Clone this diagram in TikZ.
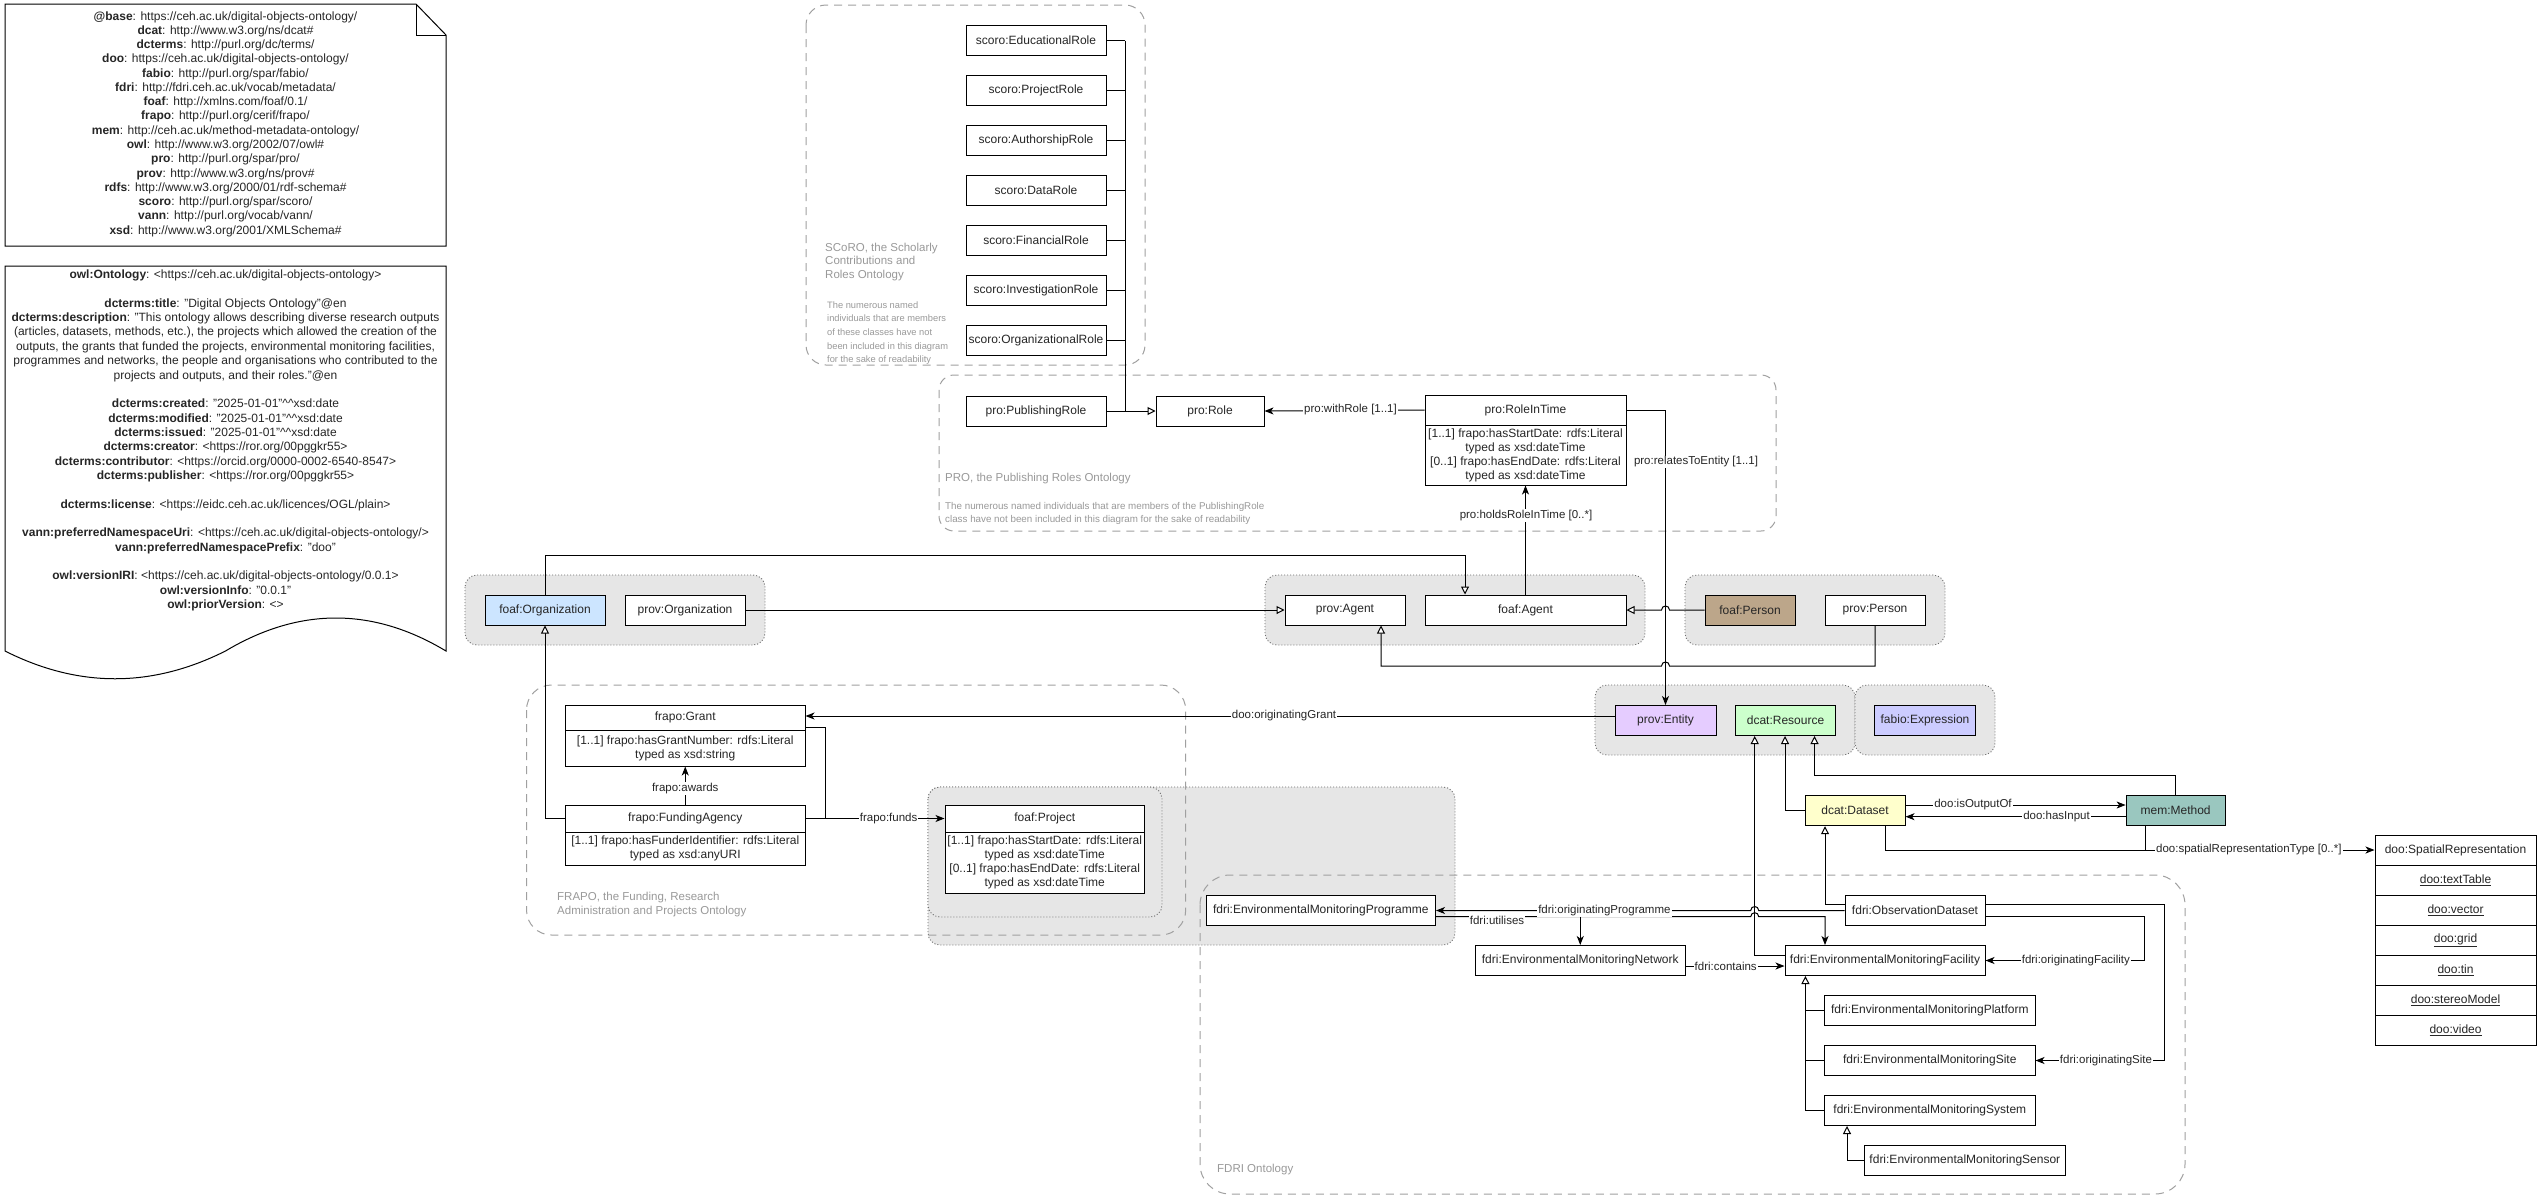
\documentclass[tikz,border=0pt]{standalone}
\usepackage{fontspec}
\setmainfont{Liberation Sans}
\usetikzlibrary{arrows.meta}
\definecolor{txt}{HTML}{262626}
\definecolor{grpfill}{HTML}{E6E6E6}
\definecolor{grpline}{HTML}{6E6E6E}
\definecolor{contline}{HTML}{A0A0A0}
\definecolor{conttext}{HTML}{999999}
\definecolor{cOrg}{HTML}{CCE5FF}
\definecolor{cPerson}{HTML}{BCA68A}
\definecolor{cEntity}{HTML}{E5CCFF}
\definecolor{cResource}{HTML}{CCFFCC}
\definecolor{cExpr}{HTML}{CCCCFF}
\definecolor{cDataset}{HTML}{FFFFCC}
\definecolor{cMethod}{HTML}{9AC7BF}
\newcommand{\myfs}[2]{\fontsize{#1}{#2}\selectfont}
\begin{document}
\begin{tikzpicture}[x=1pt,y=-1pt,
  cls/.style={draw=black, fill=white, line width=1pt, minimum height=30pt, inner sep=1pt, font=\myfs{12}{14}, text=txt, anchor=center},
  body/.style={cls, align=center},
  lbl/.style={fill=white, inner sep=1pt, font=\myfs{11.5}{13}, text=txt},
  edge/.style={line width=1pt, draw=black},
  arr/.style={edge, -{Stealth[length=9pt,width=7pt,inset=2.5pt]}},
  inh/.style={edge, -{Triangle[length=8pt,width=8pt,fill=white]}},
  grp/.style={draw=grpline, fill=grpfill, line width=0.9pt, dash pattern=on 1pt off 2pt, rounded corners=12pt},
  cont/.style={draw=contline, line width=1pt, dash pattern=on 8pt off 6pt, rounded corners=#1},
  ctitle/.style={anchor=west, align=left, text=conttext, inner sep=0pt, font=\myfs{11.5}{13.6}},
  cnote/.style={anchor=west, align=left, text=conttext, inner sep=0pt, font=\myfs{9.3}{13.6}},
  notetext/.style={align=center, text=txt, inner sep=0pt}
]
\useasboundingbox (0,0) rectangle (2541,1202);
\fill[white] (0,0) rectangle (2541,1202);

% ---------- notes ----------
\draw[line width=1pt, fill=white] (5,4) -- (416,4) -- (446,35) -- (446,246) -- (5,246) -- cycle;
\draw[line width=1pt] (416,4) -- (416,35) -- (446,35);
\node[notetext, font=\myfs{12}{14.27}] (prefixText) at (225.5,124) {%
\textbf{@base}: https://ceh.ac.uk/digital-objects-ontology/\\
\textbf{dcat}: http://www.w3.org/ns/dcat\#\\
\textbf{dcterms}: http://purl.org/dc/terms/\\
\textbf{doo}: https://ceh.ac.uk/digital-objects-ontology/\\
\textbf{fabio}: http://purl.org/spar/fabio/\\
\textbf{fdri}: http://fdri.ceh.ac.uk/vocab/metadata/\\
\textbf{foaf}: http://xmlns.com/foaf/0.1/\\
\textbf{frapo}: http://purl.org/cerif/frapo/\\
\textbf{mem}: http://ceh.ac.uk/method-metadata-ontology/\\
\textbf{owl}: http://www.w3.org/2002/07/owl\#\\
\textbf{pro}: http://purl.org/spar/pro/\\
\textbf{prov}: http://www.w3.org/ns/prov\#\\
\textbf{rdfs}: http://www.w3.org/2000/01/rdf-schema\#\\
\textbf{scoro}: http://purl.org/spar/scoro/\\
\textbf{vann}: http://purl.org/vocab/vann/\\
\textbf{xsd}: http://www.w3.org/2001/XMLSchema\#};

\draw[line width=1pt, fill=white] (5,266) -- (446,266) -- (446,651)
  .. controls (372.7,607) and (299.2,607) .. (225.5,651)
  .. controls (151.8,688) and (78.3,688) .. (5,651) -- cycle;
\node[notetext, font=\myfs{12}{14.35}] (ontoText) at (225.5,440.5) {%
\textbf{owl:Ontology}: <https://ceh.ac.uk/digital-objects-ontology>\\[14.35pt]
\textbf{dcterms:title}: "Digital Objects Ontology"@en\\
\textbf{dcterms:description}: "This ontology allows describing diverse research outputs\\
(articles, datasets, methods, etc.), the projects which allowed the creation of the\\
outputs, the grants that funded the projects, environmental monitoring facilities,\\
programmes and networks, the people and organisations who contributed to the\\
projects and outputs, and their roles."@en\\[14.35pt]
\textbf{dcterms:created}: "2025-01-01"\textasciicircum\textasciicircum xsd:date\\
\textbf{dcterms:modified}: "2025-01-01"\textasciicircum\textasciicircum xsd:date\\
\textbf{dcterms:issued}: "2025-01-01"\textasciicircum\textasciicircum xsd:date\\
\textbf{dcterms:creator}: <https://ror.org/00pggkr55>\\
\textbf{dcterms:contributor}: <https://orcid.org/0000-0002-6540-8547>\\
\textbf{dcterms:publisher}: <https://ror.org/00pggkr55>\\[14.35pt]
\textbf{dcterms:license}: <https://eidc.ceh.ac.uk/licences/OGL/plain>\\[14.35pt]
\textbf{vann:preferredNamespaceUri}: <https://ceh.ac.uk/digital-objects-ontology/>\\
\textbf{vann:preferredNamespacePrefix}: "doo"\\[14.35pt]
\textbf{owl:versionIRI}: <https://ceh.ac.uk/digital-objects-ontology/0.0.1>\\
\textbf{owl:versionInfo}: "0.0.1"\\
\textbf{owl:priorVersion}: <>};

% ---------- gray groups ----------
\draw[grp] (465,575) rectangle (765,645);
\draw[grp] (1265,575) rectangle (1645,645);
\draw[grp] (1685,575) rectangle (1945,645);
\draw[grp] (1595,685) rectangle (1855,755);
\draw[grp] (1855,685) rectangle (1995,755);
\draw[grp] (928,787) rectangle (1455,945);
\draw[grp] (928,787) rectangle (1162,917);

% ---------- dashed containers ----------
\draw[cont=20] (806,5) rectangle (1145,365);
\draw[cont=15] (939,375) rectangle (1776,531);
\draw[cont=25] (526.5,685) rectangle (1185.7,935);
\draw[cont=30] (1200,875) rectangle (2185,1194);

\node[ctitle] (scoroTitle) at (825,262) {SCoRO, the Scholarly\\Contributions and\\Roles Ontology};
\node[cnote] (scoroNote) at (827,333) {The numerous named\\individuals that are members\\of these classes have not\\been included in this diagram\\for the sake of readability};
\node[ctitle] (proTitle) at (945,479) {PRO, the Publishing Roles Ontology};
\node[cnote, font=\myfs{9.8}{13}] (proNote) at (945,513.5) {The numerous named individuals that are members of the PublishingRole\\class have not been included in this diagram for the sake of readability};
\node[ctitle, font=\myfs{11.5}{14}] (frapoTitle) at (557,905) {FRAPO, the Funding, Research\\Administration and Projects Ontology};
\node[ctitle] (fdriTitle) at (1217,1170) {FDRI Ontology};

% ---------- SCoRO / PRO nodes ----------
\foreach \nm/\yy/\tx in {sEdu/40.5/EducationalRole, sProj/90.5/ProjectRole, sAuth/140.5/AuthorshipRole, sData/190.5/DataRole, sFin/240.5/FinancialRole, sInv/290.5/InvestigationRole, sOrg/340.5/OrganizationalRole} {
  \node[cls, minimum width=140pt] (\nm) at (1036,\yy) {scoro:\tx};
}
\node[cls, minimum width=140pt] (pubrole) at (1036,411) {pro:PublishingRole};
\node[cls, minimum width=108pt] (role) at (1210,411) {pro:Role};
\node[cls, minimum width=201pt] (ritH) at (1525.5,410) {pro:RoleInTime};
\node[body, minimum width=201pt, minimum height=60pt] (ritB) at (1525.5,455) {[1..1] frapo:hasStartDate: rdfs:Literal\\typed as xsd:dateTime\\{[0..1]} frapo:hasEndDate: rdfs:Literal\\typed as xsd:dateTime};

% ---------- agents row ----------
\node[cls, minimum width=120pt, fill=cOrg] (forg) at (545,610) {foaf:Organization};
\node[cls, minimum width=120pt] (porg) at (685,610) {prov:Organization};
\node[cls, minimum width=120pt] (pagent) at (1345,610) {prov:Agent};
\node[cls, minimum width=201pt] (fagent) at (1525.5,610) {foaf:Agent};
\node[cls, minimum width=90pt, fill=cPerson] (fperson) at (1750,610) {foaf:Person};
\node[cls, minimum width=100pt] (pperson) at (1875,610) {prov:Person};

% ---------- FRAPO ----------
\node[cls, minimum width=239.5pt, minimum height=25pt] (grantH) at (685.25,717.5) {frapo:Grant};
\node[body, minimum width=239.5pt, minimum height=36pt] (grantB) at (685.25,748) {[1..1] frapo:hasGrantNumber: rdfs:Literal\\typed as xsd:string};
\node[cls, minimum width=239.5pt, minimum height=27pt] (faH) at (685.25,818.5) {frapo:FundingAgency};
\node[body, minimum width=239.5pt, minimum height=33pt] (faB) at (685.25,848.5) {[1..1] frapo:hasFunderIdentifier: rdfs:Literal\\typed as xsd:anyURI};
\node[cls, minimum width=199.5pt, minimum height=27pt] (projH) at (1044.75,818.5) {foaf:Project};
\node[body, minimum width=199.5pt, minimum height=61pt] (projB) at (1044.75,862.5) {[1..1] frapo:hasStartDate: rdfs:Literal\\typed as xsd:dateTime\\{[0..1]} frapo:hasEndDate: rdfs:Literal\\typed as xsd:dateTime};

% ---------- resources ----------
\node[cls, minimum width=101pt, fill=cEntity] (entity) at (1665.5,720.5) {prov:Entity};
\node[cls, minimum width=100pt, fill=cResource] (resource) at (1785.5,720.5) {dcat:Resource};
\node[cls, minimum width=101pt, fill=cExpr] (expr) at (1925,720.5) {fabio:Expression};
\node[cls, minimum width=100pt, fill=cDataset] (dataset) at (1855,810.7) {dcat:Dataset};
\node[cls, minimum width=99pt, fill=cMethod] (method) at (2175.6,810.7) {mem:Method};

% ---------- spatial representation list ----------
\node[cls, minimum width=161pt] (spHead) at (2455.5,850) {doo:SpatialRepresentation};
\foreach \nm/\yy/\tx in {spTable/880/textTable, spVector/910/vector, spGrid/940/grid, spTin/970/tin, spStereo/1000/stereoModel, spVideo/1030/video} {
  \node[cls, minimum width=161pt] (\nm) at (2455.5,\yy) {\underline{doo:\tx}};
}

% ---------- FDRI ----------
\node[cls, minimum width=229.5pt] (prog) at (1320.75,910.5) {fdri:EnvironmentalMonitoringProgramme};
\node[cls, minimum width=210.5pt] (network) at (1580.25,960.5) {fdri:EnvironmentalMonitoringNetwork};
\node[cls, minimum width=200pt] (facility) at (1885,960.5) {fdri:EnvironmentalMonitoringFacility};
\node[cls, minimum width=140pt] (obs) at (1915,910.5) {fdri:ObservationDataset};
\node[cls, minimum width=210.4pt] (platform) at (1929.8,1010.5) {fdri:EnvironmentalMonitoringPlatform};
\node[cls, minimum width=210.4pt] (site) at (1929.8,1060.5) {fdri:EnvironmentalMonitoringSite};
\node[cls, minimum width=210.4pt] (system) at (1929.8,1110.5) {fdri:EnvironmentalMonitoringSystem};
\node[cls, minimum width=200.3pt] (sensor) at (1964.85,1160.5) {fdri:EnvironmentalMonitoringSensor};

% ---------- edges: SCoRO / PRO ----------
\foreach \nm in {sEdu,sProj,sAuth,sData,sFin,sInv,sOrg} {
  \draw[edge] (\nm.east) -- (1125,0 |- \nm.east);
}
\draw[edge] (1125,0 |- sEdu.east) -- (1125,0 |- pubrole.east);
\draw[inh] (pubrole.east) -- (role.west);
\draw[arr] (ritH.west) -- (role.east);
\draw[arr] (ritH.east) -- (1665.5,0 |- ritH.east) -- (entity.north);
\draw[arr] (fagent.north) -- (ritB.south);

% ---------- edges: agents ----------
\draw[inh] (forg.north) -- (545,555.7) -- (1465,555.7) -- (1465,0 |- fagent.north);
\draw[inh] (porg.east) -- (pagent.west);
\draw[inh] (fperson.west) -- (1669.5,610) .. controls (1669.5,604.7) and (1661.5,604.7) .. (1661.5,610) -- (fagent.east);
\draw[inh] (pperson.south) -- (pperson.south |- 0,666) -- (1669.5,666) .. controls (1669.5,660.7) and (1661.5,660.7) .. (1661.5,666) -- (1381,666) -- (1381,0 |- pagent.south);

% ---------- edges: FRAPO ----------
\draw[arr] (entity.west |- 0,716) -- (grantH.east |- 0,716);
\draw[arr] (faH.north) -- (grantB.south);
\draw[arr] (faH.east) -- (projH.west);
\draw[edge] (grantH.east |- 0,727) -- (825.7,727) -- (825.7,0 |- faH.east);
\draw[inh] (faH.west) -- (545,0 |- faH.west) -- (forg.south);

% ---------- edges: resources ----------
\draw[inh] (facility.west |- 0,955) -- (1754.7,955) -- (1754.7,0 |- resource.south);
\draw[inh] (dataset.west) -- (1785,0 |- dataset.west) -- (1785,0 |- resource.south);
\draw[inh] (method.north) -- (method.north |- 0,775.7) -- (1814.5,775.7) -- (1814.5,0 |- resource.south);
\draw[arr] (dataset.east |- 0,805) -- (method.west |- 0,805);
\draw[arr] (method.west |- 0,816.7) -- (dataset.east |- 0,816.7);
\draw[arr] (1885,0 |- dataset.south) -- (1885,850) -- (spHead.west);
\draw[edge] (2145.3,0 |- method.south) -- (2145.3,850);

% ---------- edges: FDRI ----------
\draw[inh] (obs.west |- 0,904.3) -- (1825,904.3) -- (1825,0 |- dataset.south);
\draw[arr] (obs.west) -- (1758.7,910.5) .. controls (1758.7,905.2) and (1750.7,905.2) .. (1750.7,910.5) -- (prog.east);
\draw[arr] (prog.east |- 0,916.7) -- (1750.7,916.7) .. controls (1750.7,911.4) and (1758.7,911.4) .. (1758.7,916.7) -- (1825,916.7) -- (1825,0 |- facility.north);
\draw[arr] (network.north |- 0,916.7) -- (network.north);
\draw[arr] (network.east |- 0,966) -- (facility.west |- 0,966);
\draw[arr] (obs.east |- 0,916.7) -- (2144.7,916.7) -- (2144.7,0 |- facility.east) -- (facility.east);
\draw[arr] (obs.east |- 0,904.3) -- (2164.5,904.3) -- (2164.5,0 |- site.east) -- (site.east);
\draw[edge] (platform.west) -- (1805.4,0 |- platform.west);
\draw[edge] (site.west) -- (1805.4,0 |- site.west);
\draw[inh] (system.west) -- (1805.4,0 |- system.west) -- (1805.4,0 |- facility.south);
\draw[inh] (sensor.west) -- (1847,0 |- sensor.west) -- (1847,0 |- system.south);

% ---------- edge labels ----------
\node[lbl] (lWithRole) at (1350.5,410) {pro:withRole [1..1]};
\node[lbl] (lRelates) at (1696,462) {pro:relatesToEntity [1..1]};
\node[lbl] (lHolds) at (1526,515.5) {pro:holdsRoleInTime [0..*]};
\node[lbl] (lGrant) at (1284,716) {doo:originatingGrant};
\node[lbl] (lAwards) at (685.25,788.3) {frapo:awards};
\node[lbl] (lFunds) at (888.6,818.5) {frapo:funds};
\node[lbl] (lOut) at (1973,805) {doo:isOutputOf};
\node[lbl] (lIn) at (2056.5,816.7) {doo:hasInput};
\node[lbl] (lSpat) at (2248.8,850) {doo:spatialRepresentationType [0..*]};
\node[lbl] (lProg) at (1604.4,910.5) {fdri:originatingProgramme};
\node[lbl] (lUtil) at (1497,920) {fdri:utilises};
\node[lbl] (lCont) at (1725.7,966) {fdri:contains};
\node[lbl] (lFac) at (2075.8,960.5) {fdri:originatingFacility};
\node[lbl] (lSite) at (2106,1060.5) {fdri:originatingSite};
\end{tikzpicture}
\end{document}
